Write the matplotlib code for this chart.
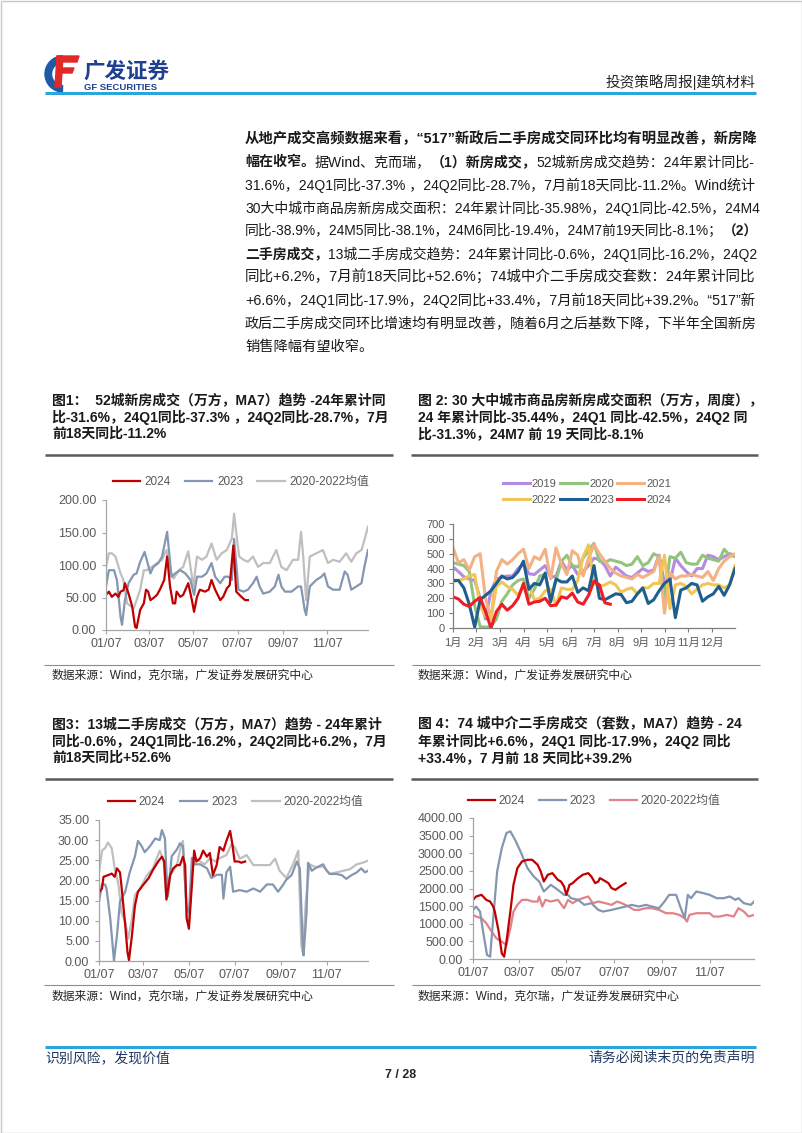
import matplotlib
matplotlib.use('Agg')
import matplotlib.pyplot as plt
from matplotlib.lines import Line2D
from matplotlib.patches import Rectangle, Wedge, Polygon

plt.rcParams['font.family'] = ['Liberation Sans', 'Noto Sans CJK SC']
plt.rcParams['axes.unicode_minus'] = False

# ---------------- data ----------------
# 图1 52城新房成交（万方，MA7），x = 一年中的第几天
c1_2024_day = [7, 11, 15, 20, 24, 27, 31, 33, 38, 43, 47, 49, 54, 59, 62, 65, 68, 72, 77, 81, 87, 91, 95, 99,
               102, 104, 109, 113, 120, 125, 128, 132, 136, 143, 148, 152, 157, 164, 168, 173, 177, 182, 186,
               193, 198, 202]
c1_2024_val = [54, 59, 51, 56, 51, 59, 61, 72, 56, 36, 5, 3, 31, 41, 62, 59, 46, 49, 54, 62, 77, 113, 67, 41,
               41, 59, 51, 54, 72, 46, 28, 51, 62, 59, 62, 77, 62, 46, 51, 64, 69, 130, 59,
               51, 46, 46]
c1_2023_day = [7, 11, 18, 22, 27, 29, 33, 38, 45, 49, 54, 60, 63, 68, 72, 79, 84, 91, 97, 102, 109, 116, 123,
               128, 132, 139, 145, 152, 157, 164, 170, 175, 180, 183, 189, 196, 202, 209, 214, 218, 223, 232,
               239, 244, 248, 253, 262, 271, 275, 280, 282, 287, 296, 303, 307, 312, 319, 328, 335, 339, 344,
               351, 358, 362, 367]
c1_2023_val = [67, 92, 92, 77, 20, 8, 46, 72, 85, 87, 105, 120, 108, 87, 97, 103, 113, 151, 82, 87, 92, 87, 77,
               54, 82, 82, 87, 103, 82, 72, 82, 82, 77, 140, 62, 59, 62, 72, 82, 67, 56, 59,
               67, 85, 67, 59, 59, 67, 67, 31, 23, 67, 77, 82, 87, 67, 62, 62, 90, 85, 62,
               67, 72, 97, 123]
c1_avg_day = [7, 11, 15, 20, 27, 31, 36, 45, 54, 59, 63, 70, 77, 84, 90, 95, 100, 107, 113, 120, 127, 132, 139,
              145, 152, 159, 166, 173, 180, 183, 186, 190, 196, 202, 209, 216, 223, 232, 241, 248, 255, 264,
              271, 275, 278, 282, 287, 296, 305, 312, 319, 328, 337, 344, 351, 358, 362, 367]
c1_avg_val = [97, 118, 118, 113, 87, 77, 41, 33, 62, 92, 92, 97, 103, 108, 123, 92, 79, 92, 97, 121, 67, 113, 108,
              113, 133, 108, 118, 123, 141, 179, 149, 113, 108, 105, 113, 97, 103, 103, 123, 97, 92, 108,
              108, 151, 113, 46, 113, 118, 123, 103, 108, 105, 118, 105, 118, 123, 138, 159]

# 图2 30大中城市商品房成交面积（万方，周度），x = 第几周
c2_2019 = [410, 380, 345, 330, 320, 200, 60, 250, 330, 340, 350, 350, 400, 430, 365, 360, 390, 420, 340, 350,
           450, 390, 420, 360, 380, 420, 470, 460, 420, 350, 410, 380, 350, 340, 370, 400, 380, 390, 490, 300,
           310, 470, 420, 380, 350, 400, 400, 490, 480, 460, 480, 500, 490]
c2_2020 = [440, 430, 420, 380, 150, 10, 5, 10, 60, 180, 230, 290, 320, 330, 200, 260, 350, 360, 200, 320,
           450, 490, 420, 410, 470, 520, 570, 450, 440, 460, 450, 440, 420, 430, 480, 420, 440, 500, 480, 200,
           480, 470, 510, 440, 430, 430, 490, 470, 460, 450, 530, 490, 480]
c2_2021 = [540, 440, 460, 390, 480, 500, 200, 60, 380, 460, 430, 460, 500, 530, 400, 480, 460, 530, 330, 540,
           430, 360, 520, 490, 350, 470, 560, 500, 450, 400, 370, 350, 340, 330, 360, 340, 360, 380, 480, 100,
           370, 330, 350, 350, 360, 350, 340, 380, 320, 400, 450, 480, 500]
c2_2022 = [310, 320, 330, 350, 360, 150, 80, 60, 280, 310, 280, 260, 220, 280, 290, 190, 200, 250, 260, 150,
           270, 260, 260, 320, 480, 560, 300, 280, 290, 310, 290, 240, 260, 270, 230, 270, 270, 300, 300, 490,
           130, 290, 300, 280, 230, 260, 290, 300, 290, 290, 270, 290, 420]
c2_2023 = [320, 320, 270, 160, 5, 190, 220, 250, 300, 350, 330, 340, 380, 450, 260, 300, 290, 370, 175, 330,
           310, 310, 350, 240, 270, 250, 420, 200, 190, 210, 230, 225, 170, 180, 230, 270, 165, 190, 250, 300,
           330, 70, 255, 270, 300, 290, 180, 210, 230, 280, 220, 290, 400]
c2_2024 = [210, 195, 160, 145, 180, 205, 110, 0, 110, 160, 120, 150, 200, 300, 160, 175, 180, 200, 150, 155,
           210, 200, 235, 175, 160, 220, 315, 290, 170, 160]
c2_months = ['1月', '2月', '3月', '4月', '5月', '6月', '7月', '8月', '9月', '10月', '11月', '12月']

# 图3 13城二手房成交（万方，MA7）
c3_2024_day = [7, 11, 13, 19, 24, 28, 31, 35, 37, 42, 45, 47, 51, 55, 59, 66, 73, 79, 86, 91, 94, 97, 102, 106,
               111, 115, 119, 122, 124, 127, 131, 134, 137, 142, 146, 151, 155, 159, 164, 168, 173, 177, 182,
               185, 188, 193, 197, 202]
c3_2024_val = [17, 18, 20.9, 21.3, 21.7, 20.9, 23, 22, 18.6, 8.9, 2.2, 0.2, 6.4, 13.8, 17.2, 18.9, 20.5, 22.6,
               24.7, 25.9, 24.7, 15.3, 21.3, 23, 23.8, 23.8, 25.9, 23.8, 10.6, 8, 18.9, 27.4, 24.7, 25.5,
               27.4, 25.9, 26.8, 21.3, 23.8, 28.3, 27.4, 29.8, 32.3, 29, 24.7, 24.7, 24.4, 24.7]
c3_2023_day = [7, 11, 15, 17, 22, 24, 27, 31, 35, 42, 48, 55, 59, 64, 68, 75, 82, 88, 91, 95, 97, 99, 104, 111,
               115, 119, 124, 127, 131, 135, 142, 151, 157, 164, 171, 173, 177, 182, 186, 195, 204, 213, 222,
               231, 239, 246, 253, 257, 264, 271, 275, 279, 280, 284, 286, 291, 297, 306, 311, 315, 324, 331,
               337, 344, 351, 357, 362, 366]
c3_2023_val = [14.7, 19, 19, 18, 10.6, 6.4, 0, 6.4, 14.7, 17.2, 22, 26, 29.8, 28.5, 27, 28.5, 30.4, 30, 32.5,
               30.4, 22, 16, 26, 27.7, 29.2, 28.5, 13, 12, 25.6, 24, 24, 23, 20.6, 21.4, 21.4, 15.5, 22,
               23.4, 17.2, 17.6, 17.2, 18, 17.2, 19, 19, 17.2, 19, 20.2, 21.3, 24.7, 23, 3.9, 1.4, 12.2,
               24.4, 22.4, 23.2, 24, 22.4, 21.6, 21.6, 21.3, 20.4, 21.3, 22, 23, 22, 22.4]
c3_avg_day = [7, 11, 15, 19, 24, 28, 33, 37, 42, 46, 51, 55, 62, 71, 79, 88, 93, 97, 102, 111, 117, 119, 122,
              124, 127, 131, 135, 142, 148, 155, 162, 168, 177, 184, 188, 195, 204, 213, 222, 235, 242, 248,
              257, 266, 273, 277, 279, 283, 288, 297, 306, 315, 324, 333, 342, 351, 359, 366]
c3_avg_val = [22, 27.4, 28, 29.4, 28, 23, 19, 12, 9.7, 5.5, 10.6, 16.4, 18, 21.3, 23, 27.4, 25, 15.1, 21.3, 23.8,
              29, 29.8, 19, 10.6, 9.2, 22.4, 25.4, 24.7, 24, 25.5, 24.7, 25.5, 26.3, 29, 28.3, 25.4, 26.3,
              23.8, 23.8, 23.8, 25.4, 22.4, 20.6, 24, 27.4, 3.9, 2.2, 14.8, 24, 23.2, 23.5, 21.6, 22, 22.4,
              22.8, 24, 24.4, 24.9]

# 图4 74城中介二手房成交（套数，MA7）
c4_2024_day = [7, 11, 18, 24, 29, 33, 35, 40, 44, 47, 50, 55, 59, 64, 70, 77, 83, 90, 94, 98, 103, 109, 116,
               120, 124, 127, 131, 135, 142, 148, 155, 159, 164, 168, 170, 174, 181, 185, 190, 196, 203]
c4_2024_val = [1678, 1773, 1820, 1678, 1630, 1488, 1346, 777, 161, 66, 493, 1346, 2104, 2578, 2768, 2815, 2815,
               2673, 2483, 2199, 2389, 2436, 2246, 2199, 2057, 1820, 2104, 2152, 2294, 2389, 2436, 2341,
               2152, 2199, 2294, 2246, 2152, 2010, 1962, 2057, 2152]
c4_2023_day = [7, 11, 16, 20, 25, 29, 33, 38, 44, 50, 55, 61, 68, 77, 85, 92, 98, 107, 116, 124, 129, 133, 142,
               150, 159, 168, 174, 185, 194, 203, 211, 220, 229, 237, 246, 253, 259, 268, 274, 279, 283, 287,
               294, 303, 311, 320, 329, 337, 344, 348, 355, 364, 368]
c4_2023_val = [1393, 1488, 1346, 777, 114, 66, 1156, 2483, 3147, 3574, 3621, 3384, 3052, 2578, 2341, 2199, 1915,
               2104, 1962, 1820, 1820, 1725, 1678, 1536, 1583, 1393, 1346, 1393, 1441, 1488, 1536, 1488,
               1536, 1488, 1441, 1630, 1820, 1820, 1441, 1156, 1820, 1725, 1915, 1867, 1820, 1725, 1725,
               1773, 1678, 1725, 1583, 1536, 1630]
c4_avg_day = [7, 11, 18, 24, 31, 37, 44, 50, 55, 59, 64, 70, 77, 83, 90, 92, 96, 100, 107, 116, 124, 129, 135,
              142, 148, 155, 161, 168, 177, 185, 192, 198, 207, 214, 220, 229, 237, 246, 255, 264, 272, 279,
              282, 285, 294, 303, 311, 316, 324, 333, 342, 348, 355, 361, 368]
c4_avg_val = [1251, 1204, 1156, 1014, 777, 588, 493, 398, 872, 1346, 1536, 1678, 1678, 1630, 1630, 1773, 1488,
              1678, 1630, 1678, 1441, 1678, 1583, 1678, 1725, 1773, 1583, 1630, 1583, 1536, 1630, 1583,
              1488, 1393, 1393, 1441, 1441, 1393, 1299, 1299, 1251, 1156, 1062, 1251, 1299, 1299, 1299,
              1204, 1204, 1251, 1204, 1441, 1346, 1204, 1251]

date_ticks = [7, 66, 127, 188, 250, 311]
date_labels = ['01/07', '03/07', '05/07', '07/07', '09/07', '11/07']

# ---------------- page ----------------
W, H = 802, 1133
fig = plt.figure(figsize=(W / 100, H / 100), dpi=100)
renderer = fig.canvas.get_renderer()


def fx(px):
    return px / W


def fy(py):
    return 1 - py / H


def hline(x0, x1, y, color, lw):
    fig.add_artist(Line2D([fx(x0), fx(x1)], [fy(y), fy(y)], color=color, lw=lw, solid_capstyle='butt'))


def put_segments(x0, y, segs, size, width=None, color='#1a1a1a'):
    # 逐段排字；给了 width 时按行宽微调字号，模拟两端对齐
    texts = [fig.text(fx(x0), fy(y), s, fontsize=size, fontweight='bold' if b else 'normal',
                      ha='left', va='center', color=color) for s, b in segs]
    if width:
        total = sum(t.get_window_extent(renderer).width for t in texts)
        for t in texts:
            t.set_fontsize(size * width / total)
    x = x0
    for t in texts:
        t.set_x(fx(x))
        x += t.get_window_extent(renderer).width


fig.add_artist(Rectangle((0.5 / W, 0.5 / H), 1 - 1 / W, 1 - 1 / H, transform=fig.transFigure,
                         fill=False, edgecolor='#c8c8c8', lw=1))

# header / logo
ax_logo = fig.add_axes([fx(44), fy(93), 36 / W, 38 / H])
ax_logo.set_xlim(0, 36)
ax_logo.set_ylim(0, 38)
ax_logo.axis('off')
ax_logo.add_patch(Wedge((19, 19), 18, 95, 268, width=6.5, color='#1f5aa6'))
ax_logo.add_patch(Polygon([(13, 37), (35, 37), (33, 31), (13, 31)], color='#e02a27'))
ax_logo.add_patch(Polygon([(14, 25), (30, 25), (28, 20), (14, 20)], color='#e02a27'))
ax_logo.add_patch(Polygon([(13, 37), (19, 37), (17, 6), (11, 6)], color='#e02a27'))
fig.text(fx(83), fy(72), '广发证券', fontsize=15.5, fontweight='bold', color='#1f3f8f', ha='left', va='center')
fig.text(fx(84), fy(88), 'GF SECURITIES', fontsize=6.8, fontweight='bold', color='#1f3f8f', ha='left', va='center')
fig.text(fx(755), fy(82), '投资策略周报|建筑材料', fontsize=10.5, color='#262626', ha='right', va='center')
hline(45, 756, 93, '#2aa6dc', 2.2)

# paragraph
para = [
    [('从地产成交高频数据来看，“517”新政后二手房成交同环比均有明显改善，新房降', True)],
    [('幅在收窄。', True), ('据Wind、克而瑞，', False), ('（1）新房成交，', True),
     ('52城新房成交趋势：24年累计同比-', False)],
    [('31.6%，24Q1同比-37.3% ，24Q2同比-28.7%，7月前18天同比-11.2%。Wind统计', False)],
    [('30大中城市商品房新房成交面积：24年累计同比-35.98%，24Q1同比-42.5%，24M4', False)],
    [('同比-38.9%，24M5同比-38.1%，24M6同比-19.4%，24M7前19天同比-8.1%；', False), ('（2）', True)],
    [('二手房成交，', True), ('13城二手房成交趋势：24年累计同比-0.6%，24Q1同比-16.2%，24Q2', False)],
    [('同比+6.2%，7月前18天同比+52.6%；74城中介二手房成交套数：24年累计同比', False)],
    [('+6.6%，24Q1同比-17.9%，24Q2同比+33.4%，7月前18天同比+39.2%。“517”新', False)],
    [('政后二手房成交同环比增速均有明显改善，随着6月之后基数下降，下半年全国新房', False)],
    [('销售降幅有望收窄。', False)],
]
for i, segs in enumerate(para):
    last = i == len(para) - 1
    put_segments(245, 139 + 23.1 * i, segs, 10.3, width=None if last else 510)

# captions
cap1 = ['图1：  52城新房成交（万方，MA7）趋势 -24年累计同',
        '比-31.6%，24Q1同比-37.3% ，24Q2同比-28.7%，7月',
        '前18天同比-11.2%']
cap2 = ['图 2: 30 大中城市商品房新房成交面积（万方，周度），',
        '24 年累计同比-35.44%，24Q1 同比-42.5%，24Q2 同',
        '比-31.3%，24M7 前 19 天同比-8.1%']
cap3 = ['图3：13城二手房成交（万方，MA7）趋势 - 24年累计',
        '同比-0.6%，24Q1同比-16.2%，24Q2同比+6.2%，7月',
        '前18天同比+52.6%']
cap4 = ['图 4：74 城中介二手房成交（套数，MA7）趋势 - 24',
        '年累计同比+6.6%，24Q1 同比-17.9%，24Q2 同比',
        '+33.4%，7 月前 18 天同比+39.2%']
for cap, x0, y0 in [(cap1, 52, 400), (cap2, 418, 400), (cap3, 52, 724), (cap4, 418, 724)]:
    for j, s in enumerate(cap):
        fig.text(fx(x0), fy(y0 + 17 * j), s, fontsize=10, fontweight='bold', color='#1a1a1a',
                 ha='left', va='center')
for y in (455, 779):
    hline(45, 393, y, '#595959', 1.8)
    hline(411, 758, y, '#595959', 1.8)

# sources
src_a = '数据来源：Wind，克尔瑞，广发证券发展研究中心'
src_b = '数据来源：Wind，广发证券发展研究中心'
for y_line, y_txt, right_src in [(665, 676, src_b), (985, 997, src_a)]:
    hline(44, 394, y_line, '#8c8c8c', 0.8)
    hline(412, 760, y_line, '#8c8c8c', 0.8)
    fig.text(fx(52), fy(y_txt), src_a, fontsize=8.5, color='#262626', ha='left', va='center')
    fig.text(fx(418), fy(y_txt), right_src, fontsize=8.5, color='#262626', ha='left', va='center')

# footer
hline(45, 756, 1047, '#2aa6dc', 2.2)
fig.text(fx(45), fy(1058), '识别风险，发现价值', fontsize=10, color='#1f3864', ha='left', va='center')
fig.text(fx(755), fy(1058), '请务必阅读末页的免责声明', fontsize=10, color='#1f3864', ha='right', va='center')
fig.text(fx(401), fy(1075), '7 / 28', fontsize=9, fontweight='bold', color='#262626', ha='center', va='center')


# ---------------- charts ----------------
def make_ax(left, top, right, bottom):
    return fig.add_axes([fx(left), fy(bottom), (right - left) / W, (bottom - top) / H])


def style(ax, size=9, xpad=3, ypad=4, axcolor='#a6a6a6'):
    for s in ('top', 'right'):
        ax.spines[s].set_visible(False)
    for s in ('left', 'bottom'):
        ax.spines[s].set_color(axcolor)
        ax.spines[s].set_linewidth(0.9)
    ax.tick_params(axis='both', length=3, width=0.8, color=axcolor, labelsize=size, labelcolor='#595959')
    ax.tick_params(axis='x', pad=xpad)
    ax.tick_params(axis='y', pad=ypad)
    ax.patch.set_alpha(0)


def add_legend(ax, order, x, y, ncol, size, hl, tp, cs, ls=0.5):
    lines = ax.get_lines()
    handles = [lines[k] for k in order]
    ax.legend(handles=handles, loc='center left', bbox_to_anchor=(fx(x), fy(y)),
              bbox_transform=fig.transFigure, ncol=ncol, frameon=False, fontsize=size,
              handlelength=hl, handletextpad=tp, columnspacing=cs, borderpad=0,
              borderaxespad=0, labelspacing=ls, labelcolor='#595959')


def date_axis(ax, xmax):
    ax.set_xlim(7, xmax)
    ax.set_xticks(date_ticks)
    ax.set_xticklabels(date_labels)


red, slate, grey = '#c00000', '#8497b0', '#bfbfbf'

# chart 1
ax1 = make_ax(106, 500, 368, 630)
ax1.plot(c1_avg_day, c1_avg_val, color=grey, lw=1.6, label='2020-2022均值')
ax1.plot(c1_2023_day, c1_2023_val, color=slate, lw=1.6, label='2023')
ax1.plot(c1_2024_day, c1_2024_val, color=red, lw=1.6, label='2024')
date_axis(ax1, 367)
ax1.set_ylim(0, 200)
ax1.set_yticks([0, 50, 100, 150, 200])
ax1.set_yticklabels([f'{v:.2f}' for v in [0, 50, 100, 150, 200]])
style(ax1)
add_legend(ax1, [2, 1, 0], 113, 482, 3, 8.5, 2.3, 0.4, 1.2)

# chart 2
ax2 = make_ax(453, 524, 735, 628)
c2_series = [('2019', c2_2019, '#b48be0'), ('2020', c2_2020, '#93c47d'), ('2021', c2_2021, '#f4b183'),
             ('2022', c2_2022, '#f0c659'), ('2023', c2_2023, '#1f5f8f'), ('2024', c2_2024, '#ee1c25')]
for name, vals, col in c2_series:
    ax2.plot(range(len(vals)), vals, color=col, lw=2.2, label=name)
ax2.set_xlim(0, 52)
ax2.set_ylim(0, 700)
ax2.set_yticks(range(0, 701, 100))
ax2.set_xticks([52 * m / 12 for m in range(12)])
ax2.set_xticklabels(c2_months)
style(ax2, size=8, xpad=4, ypad=3, axcolor='#7f7f7f')
add_legend(ax2, [0, 3, 1, 4, 2, 5], 503, 492, 3, 8, 2.4, 0.2, 0.3, ls=0.55)

# chart 3
ax3 = make_ax(99, 820, 368, 961)
ax3.plot(c3_avg_day, c3_avg_val, color=grey, lw=1.6, label='2020-2022均值')
ax3.plot(c3_2023_day, c3_2023_val, color=slate, lw=1.6, label='2023')
ax3.plot(c3_2024_day, c3_2024_val, color=red, lw=1.6, label='2024')
date_axis(ax3, 366)
ax3.set_ylim(0, 35)
ax3.set_yticks(range(0, 36, 5))
ax3.set_yticklabels([f'{v:.2f}' for v in range(0, 36, 5)])
style(ax3)
add_legend(ax3, [2, 1, 0], 108, 802, 3, 8.5, 2.3, 0.3, 1.3)

# chart 4
ax4 = make_ax(473, 818, 754, 959)
ax4.plot(c4_avg_day, c4_avg_val, color='#e0828a', lw=1.6, label='2020-2022均值')
ax4.plot(c4_2023_day, c4_2023_val, color=slate, lw=1.6, label='2023')
ax4.plot(c4_2024_day, c4_2024_val, color=red, lw=1.6, label='2024')
date_axis(ax4, 368)
ax4.set_ylim(0, 4000)
ax4.set_yticks(range(0, 4001, 500))
ax4.set_yticklabels([f'{v:.2f}' for v in range(0, 4001, 500)])
style(ax4)
add_legend(ax4, [2, 1, 0], 468, 801, 3, 8.5, 2.3, 0.3, 1.2)

fig.savefig('out.png', dpi=100)
